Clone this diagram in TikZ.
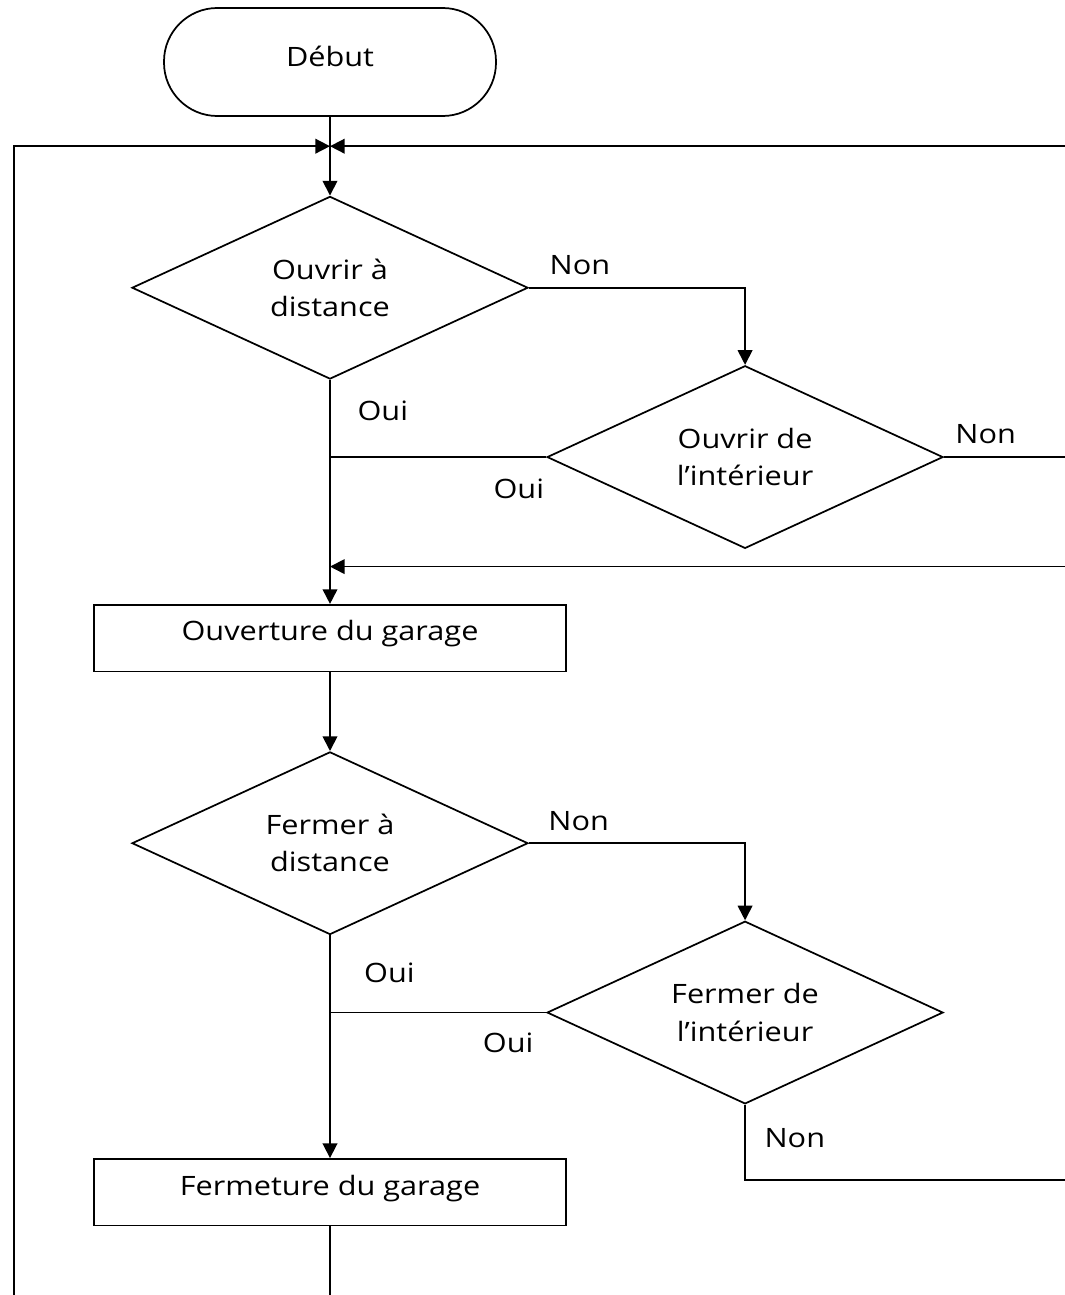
\documentclass[tikz,border=0pt]{standalone}
\usepackage{fontspec}
\setmainfont{Open Sans}[FakeStretch=1.15]
\usetikzlibrary{arrows.meta,positioning,shapes.geometric}

\begin{document}
\begin{tikzpicture}[
  x=0.75pt, y=-0.75pt,
  font=\fontsize{20}{28}\selectfont,
  >={Triangle[length=11pt,width=11pt]},
  line width=1.3pt,
  start/.style={draw, rounded corners=40pt, minimum width=249pt, minimum height=81pt, text depth=8pt},
  decision/.style={draw, diamond, aspect=2.2, inner sep=0pt, align=center, minimum width=297pt, minimum height=137pt},
  process/.style={draw, minimum width=354pt, minimum height=50pt, text depth=11pt},
  arr/.style={->},
  lbl/.style={inner sep=0pt}
]
\useasboundingbox (0,0) rectangle (1064,1295);
\fill[white] (0,0) rectangle (1064,1295);

\node[start] (debut) at (330,62) {Début};
\node[decision, below=59pt of debut] (d1) {Ouvrir à\\distance};
\node[decision, right=13pt of d1, yshift=-127pt] (d2) {Ouvrir de\\l’intérieur};
\node[process, below=168pt of d1] (ouv) {Ouverture du garage};
\node[decision, below=59pt of ouv] (d3) {Fermer à\\distance};
\node[decision, right=13pt of d3, yshift=-127pt] (d4) {Fermer de\\l’intérieur};
\node[process, below=167pt of d3] (ferm) {Fermeture du garage};

% points where the loops come back
\coordinate[below=22pt of debut] (merge);
\coordinate[above=28pt of ouv] (join);
\coordinate (rimr) at (1090,0);
\coordinate (riml) at (14,0);
\coordinate (rimb) at (0,1330);

\draw[arr] (debut) -- (d1);
\draw[arr] (d1.east) -| (d2.north);
\draw[arr] (d1.south) -- (ouv.north);
\draw (d2.west) -- (d2.west -| d1.south);
\draw[arr] (d2.east) -- (d2.east -| rimr) |- (join);
\draw[arr] (ouv) -- (d3);
\draw[arr] (d3.east) -| (d4.north);
\draw[arr] (d3.south) -- (ferm.north);
\draw (d4.west) -- (d4.west -| d3.south);
\draw[arr] (d4.south) -- ++(0,75) -| (rimr |- merge) -- (merge);
\draw[arr] (ferm) -- (ferm |- rimb) -| (riml |- merge) -- (merge);

\node[lbl, above right=9pt and 15pt of d1.east] (non1) {Non};
\node[lbl, below right=15pt and 20pt of d1.south] (oui1) {Oui};
\node[lbl, above right=9pt and 8pt of d2.east] (non2) {Non};
\node[lbl, below left=16pt and 1pt of d2.west] (oui2) {Oui};
\node[lbl, above right=9pt and 14pt of d3.east] (non3) {Non};
\node[lbl, below right=20pt and 25pt of d3.south] (oui3) {Oui};
\node[lbl, below left=15pt and 9pt of d4.west] (oui4) {Oui};
\node[lbl, below right=17pt and 14pt of d4.south] (non4) {Non};

\end{tikzpicture}
\end{document}
